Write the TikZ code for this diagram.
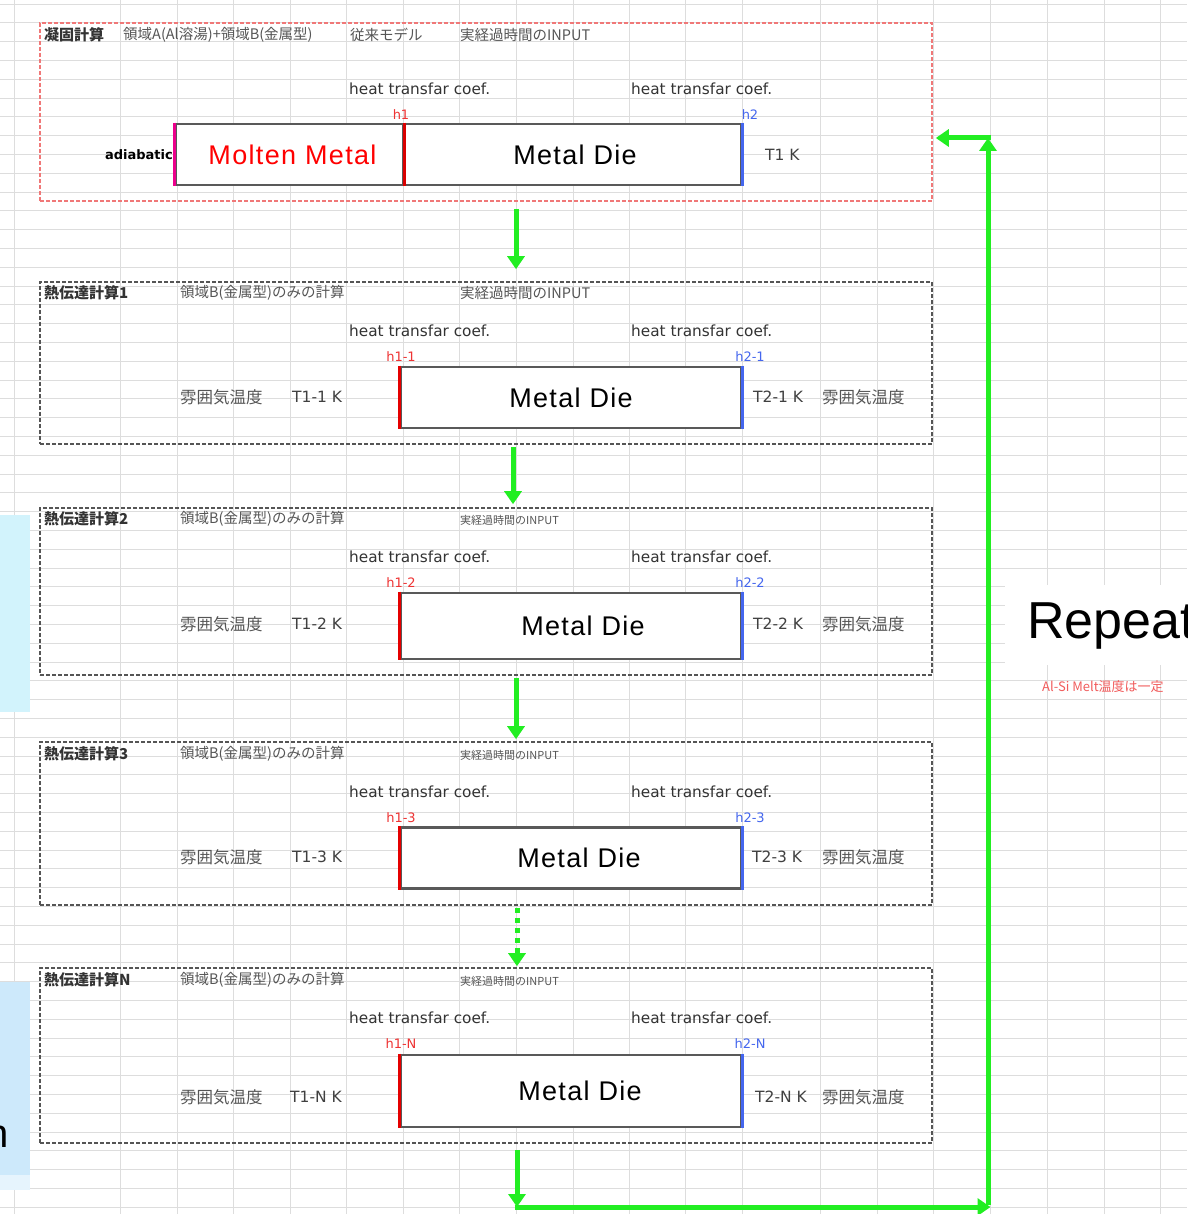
\documentclass[tikz,border=0pt]{standalone}
\usepackage{fontspec}
\setmainfont{Liberation Sans}
\newfontfamily\jpfont{Noto Sans CJK JP}
\newfontfamily\coeffont{DejaVu Sans}
\newfontfamily\boxfont[LetterSpace=5]{Liberation Sans}
\usetikzlibrary{arrows.meta}
\definecolor{gridc}{HTML}{DDDDDD}
\definecolor{gr}{HTML}{22EE22}
\definecolor{pinkd}{HTML}{F07878}
\definecolor{txtg}{HTML}{555555}
\definecolor{hred}{HTML}{EE3333}
\definecolor{hblue}{HTML}{4466EE}
\definecolor{lblue1}{HTML}{D2F3FC}
\definecolor{lblue2}{HTML}{CDE9FB}
\tikzset{
  gridl/.style={draw=gridc, line width=0.7pt},
  redblock/.style={draw=pinkd, line width=1.6pt, dash pattern=on 4pt off 2pt, minimum width=892pt, inner sep=0pt},
  grayblock/.style={draw=txtg, line width=1.6pt, dash pattern=on 4pt off 2pt, minimum width=892pt, inner sep=0pt},
  diebox/.style={draw=black!65, line width=2.6pt, fill=white, minimum height=61pt, inner sep=0pt, font=\boxfont\fontsize{27}{27}\selectfont},
  jp/.style={anchor=west, inner sep=0pt, text=txtg, font=\jpfont\fontsize{14.5}{14.5}\selectfont},
  jpsmall/.style={anchor=west, inner sep=0pt, text=txtg, font=\jpfont\fontsize{11}{11}\selectfont},
  jpbold/.style={anchor=west, inner sep=0pt, text=black!80, font=\jpfont\bfseries\fontsize{15}{15}\selectfont},
  jpatm/.style={anchor=west, inner sep=0pt, text=txtg, font=\jpfont\fontsize{16.5}{16.5}\selectfont},
  coef/.style={anchor=west, inner sep=0pt, text=black!80, font=\coeffont\fontsize{15.3}{15.3}\selectfont},
  hlab/.style={inner sep=0pt, font=\coeffont\fontsize{13}{13}\selectfont},
  tlab/.style={anchor=west, inner sep=0pt, text=black!75, font=\coeffont\fontsize{15.5}{15.5}\selectfont},
  garrow/.style={draw=gr, line width=5pt, -{Triangle[length=13pt,width=17pt]}},
}
\begin{document}
\begin{tikzpicture}[x=1pt,y=-1pt]
\useasboundingbox (0,0) rectangle (1187,1214);
\fill[white] (0,0) rectangle (1187,1214);
% spreadsheet grid
\foreach \gx in {14,120,177,233,290,346,403,459,516,573,629,685,742,820,877,933,990,1047,1104,1160}
  \draw[gridl] (\gx,0) -- (\gx,1214);
\foreach \gy in {4,22.8,...,1214}
  \draw[gridl] (0,\gy) -- (1187,\gy);
% cut-off slide pieces on the left
\fill[lblue1] (0,515) rectangle (30,712);
\fill[lblue2] (0,982) rectangle (30,1175);
\fill[lblue2!50] (0,1175) rectangle (30,1190);
\node[anchor=east, inner sep=0pt, font=\fontsize{40}{40}\selectfont] (ncut) at (9,1137) {n};

% ===== Block 0 =====
\node[redblock, minimum height=178pt] (b0) at (486,112) {};
\node[jpbold] (b0t1) at (44,35) {凝固計算};
\node[jp] (b0t2) at (123,35) {領域A(Al溶湯)+領域B(金属型)};
\node[jp] (b0t3) at (350,35) {従来モデル};
\node[jp] (b0t4) at (460,35) {実経過時間のINPUT};
\node[coef] (b0c1) at (349,89) {heat transfar coef.};
\node[coef] (b0c2) at (631,89) {heat transfar coef.};
\node[hlab, text=hred] (b0h1) at (401,115) {h1};
\node[hlab, text=hblue] (b0h2) at (750,115) {h2};
\node[anchor=east, inner sep=0pt, font=\coeffont\bfseries\fontsize{13}{13}\selectfont] (adia) at (173,155) {adiabatic};
\node[diebox, minimum width=227pt, text=red] (mm) at (289.5,154.5) {\hspace*{6pt}Molten Metal};
\node[diebox, minimum width=338pt] (d0) at (572,154.5) {\hspace*{6pt}Metal Die};
\draw[magenta, line width=2.6pt] (mm.north west) -- (mm.south west);
\draw[red!85!black, line width=2.6pt] (mm.north east) -- (mm.south east);
\draw[hblue, line width=2.6pt] (d0.north east) -- (d0.south east);
\node[tlab] (b0T) at (765,155) {T1 K};

% Block 1
\node[grayblock, minimum height=162pt] (b1) at (486,363) {};
\node[jpbold] (b1t1) at (44,293) {熱伝達計算1};
\node[jp] (b1t2) at (180,293) {領域B(金属型)のみの計算};
\node[jp] (b1t3) at (460,293) {実経過時間のINPUT};
\node[coef] (b1c1) at (349,331) {heat transfar coef.};
\node[coef] (b1c2) at (631,331) {heat transfar coef.};
\node[hlab, text=hred] (b1h1) at (401,357) {h1-1};
\node[hlab, text=hblue] (b1h2) at (750,357) {h2-1};
\node[jpatm] (b1a1) at (180,397) {雰囲気温度};
\node[tlab] (b1T1) at (292,397) {T1-1 K};
\node[diebox, minimum width=340pt] (d1) at (571,397.5) {Metal Die};
\draw[red!90!black, line width=2.6pt] (d1.north west) -- (d1.south west);
\draw[hblue, line width=2.6pt] (d1.north east) -- (d1.south east);
\node[tlab] (b1T2) at (753,397) {T2-1 K};
\node[jpatm] (b1a2) at (822,397) {雰囲気温度};

% Block 2
\node[grayblock, minimum height=167pt] (b2) at (486,591.5) {};
\node[jpbold] (b2t1) at (44,519) {熱伝達計算2};
\node[jp] (b2t2) at (180,519) {領域B(金属型)のみの計算};
\node[jpsmall] (b2t3) at (460,520) {実経過時間のINPUT};
\node[coef] (b2c1) at (349,557) {heat transfar coef.};
\node[coef] (b2c2) at (631,557) {heat transfar coef.};
\node[hlab, text=hred] (b2h1) at (401,583) {h1-2};
\node[hlab, text=hblue] (b2h2) at (750,583) {h2-2};
\node[jpatm] (b2a1) at (180,624) {雰囲気温度};
\node[tlab] (b2T1) at (292,624) {T1-2 K};
\node[diebox, minimum width=340pt, minimum height=66pt] (d2) at (571,626) {\hspace*{24pt}Metal Die};
\draw[red!90!black, line width=2.6pt] (d2.north west) -- (d2.south west);
\draw[hblue, line width=2.6pt] (d2.north east) -- (d2.south east);
\node[tlab] (b2T2) at (753,624) {T2-2 K};
\node[jpatm] (b2a2) at (822,624) {雰囲気温度};

% Block 3
\node[grayblock, minimum height=163pt] (b3) at (486,823.5) {};
\node[jpbold] (b3t1) at (44,754) {熱伝達計算3};
\node[jp] (b3t2) at (180,754) {領域B(金属型)のみの計算};
\node[jpsmall] (b3t3) at (460,755) {実経過時間のINPUT};
\node[coef] (b3c1) at (349,792) {heat transfar coef.};
\node[coef] (b3c2) at (631,792) {heat transfar coef.};
\node[hlab, text=hred] (b3h1) at (401,818) {h1-3};
\node[hlab, text=hblue] (b3h2) at (750,818) {h2-3};
\node[jpatm] (b3a1) at (180,857) {雰囲気温度};
\node[tlab] (b3T1) at (292,857) {T1-3 K};
\node[diebox, minimum width=340pt] (d3) at (571,858) {\hspace*{16pt}Metal Die};
\draw[red!90!black, line width=2.6pt] (d3.north west) -- (d3.south west);
\draw[hblue, line width=2.6pt] (d3.north east) -- (d3.south east);
\node[tlab] (b3T2) at (752,857) {T2-3 K};
\node[jpatm] (b3a2) at (822,857) {雰囲気温度};

% Block N
\node[grayblock, minimum height=175pt] (bN) at (486,1055.5) {};
\node[jpbold] (bNt1) at (44,980) {熱伝達計算N};
\node[jp] (bNt2) at (180,980) {領域B(金属型)のみの計算};
\node[jpsmall] (bNt3) at (460,981) {実経過時間のINPUT};
\node[coef] (bNc1) at (349,1018) {heat transfar coef.};
\node[coef] (bNc2) at (631,1018) {heat transfar coef.};
\node[hlab, text=hred] (bNh1) at (401,1044) {h1-N};
\node[hlab, text=hblue] (bNh2) at (750,1044) {h2-N};
\node[jpatm] (bNa1) at (180,1097) {雰囲気温度};
\node[tlab] (bNT1) at (290,1097) {T1-N K};
\node[diebox, minimum width=340pt, minimum height=72pt] (dN) at (571,1091) {\hspace*{18pt}Metal Die};
\draw[red!90!black, line width=2.6pt] (dN.north west) -- (dN.south west);
\draw[hblue, line width=2.6pt] (dN.north east) -- (dN.south east);
\node[tlab] (bNT2) at (755,1097) {T2-N K};
\node[jpatm] (bNa2) at (822,1097) {雰囲気温度};

% ===== Repeat label =====
\node[fill=white, anchor=north west, minimum width=190pt, minimum height=80pt, inner sep=0pt] (rbox) at (1005,585) {};
\node[anchor=west, inner sep=0pt, font=\fontsize{52}{52}\selectfont] (rep) at (1027,626) {Repeat};
\node[anchor=west, inner sep=0pt, text=hred!80, font=\jpfont\fontsize{13}{13}\selectfont] (alsi) at (1042,687) {Al-Si Melt温度は一定};

% ===== green arrows =====
\draw[garrow] ([xshift=30pt, yshift=-7pt]b0.south) -- ([xshift=30pt, yshift=12pt]b1.north);
\draw[garrow] ([xshift=27pt, yshift=-2pt]b1.south) -- ([xshift=27pt, yshift=3pt]b2.north);
\draw[garrow] ([xshift=30pt, yshift=-2pt]b2.south) -- ([xshift=30pt, yshift=2pt]b3.north);
\draw[garrow, dash pattern=on 5pt off 5pt] ([xshift=31pt, yshift=-2pt]b3.south) -- ([xshift=31pt, yshift=1pt]bN.north);
\coordinate (c1) at (517,1207);
\coordinate (c2) at (988,1207);
\coordinate (c3) at (988,138);
\draw[garrow] ([xshift=31pt, yshift=-6pt]bN.south) -- (c1);
\draw[garrow] ([xshift=-2.5pt]c1) -- ([xshift=2.5pt]c2);
\draw[garrow] ([yshift=2.5pt]c2) -- (c3);
\draw[garrow] ([xshift=2.5pt]c3) -- ([xshift=3pt]b0.east |- c3);
\end{tikzpicture}
\end{document}
